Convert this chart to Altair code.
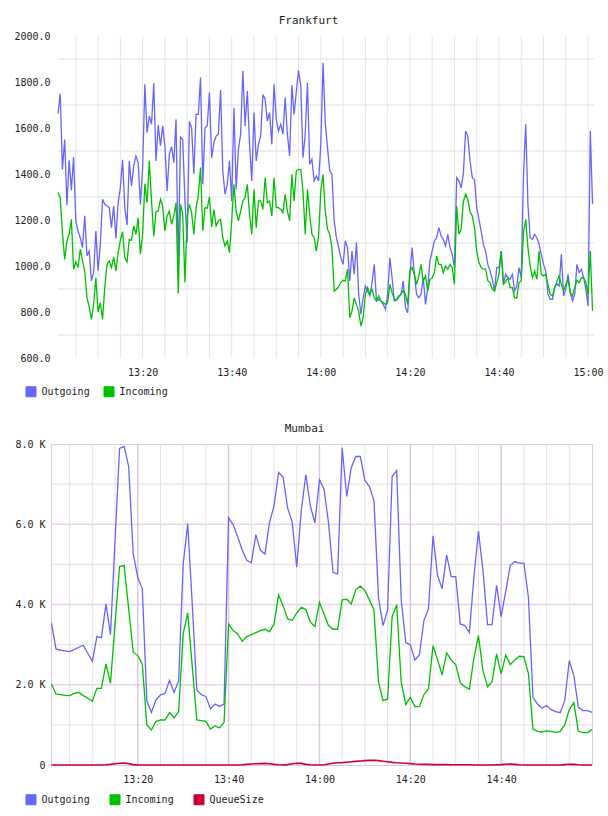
import altair as alt
import pandas as pd

FONT = "DejaVu Sans Mono"
SERIES = ["Outgoing", "Incoming", "QueueSize"]
COLORS = ["#6666ff", "#00c000", "#cc0033"]

# ---- Frankfurt: 30-second samples, 13:01:00 .. 15:01:00 ----
fra_outgoing = [
    1662, 1749, 1420, 1550, 1265, 1460, 1330, 1474, 1196, 1152,
    1123, 1080, 1218, 1044, 1065, 935, 971, 1152, 978, 1094,
    1290, 1268, 1261, 1254, 1167, 1261, 1120, 1275, 1341, 1462,
    1254, 1178, 1457, 1348, 1435, 1478, 1449, 1268, 1428, 1790,
    1580, 1652, 1616, 1794, 1457, 1613, 1522, 1609, 1522, 1326,
    1486, 1519, 1449, 1638, 993, 1561, 1551, 1283, 1102, 1628,
    1600, 1400, 1659, 1659, 1819, 1355, 1601, 1609, 1754, 1471,
    1536, 1565, 1573, 1765, 1413, 1312, 1355, 1457, 1283, 1688,
    1333, 1507, 1573, 1848, 1609, 1761, 1529, 1370, 1667, 1457,
    1529, 1565, 1746, 1725, 1630, 1667, 1529, 1790, 1638, 1587,
    1616, 1573, 1732, 1573, 1478, 1786, 1659, 1758, 1851, 1783,
    1471, 1573, 1797, 1442, 1464, 1370, 1391, 1370, 1529, 1884,
    1620, 1515, 1413, 1399, 1196, 1123, 1080, 1036, 1007, 1109,
    1080, 935, 1065, 964, 1102, 877, 790, 862, 913, 891,
    870, 928, 1007, 848, 855, 848, 833, 812, 877, 1036,
    949, 848, 855, 870, 877, 935, 819, 797, 964, 1080,
    964, 877, 862, 877, 949, 833, 906, 1022, 1065, 1109,
    1123, 1167, 1131, 1116, 1087, 1138, 1080, 1051, 993, 1384,
    1370, 1340, 1400, 1587, 1565, 1457, 1384, 1377, 1254, 1203,
    1152, 1094, 1065, 1007, 978, 942, 891, 993, 993, 1065,
    920, 964, 949, 942, 964, 891, 913, 993, 949, 1393,
    1616, 1268, 1123, 1116, 1138, 1123, 1094, 1051, 1007, 978,
    877, 855, 855, 906, 923, 913, 1051, 870, 899, 964,
    884, 848, 877, 1007, 971, 986, 949, 899, 826, 1587, 1271,
]
fra_incoming = [
    1319, 1297, 1144, 1029, 1109, 1138, 1203, 986, 1018, 993,
    1073, 1022, 978, 862, 822, 768, 834, 949, 800, 841,
    768, 906, 1007, 1022, 993, 1039, 978, 1058, 1112, 1149,
    1036, 1018, 1116, 1112, 1174, 1138, 1210, 1051, 1138, 1358,
    1275, 1457, 1283, 1128, 1236, 1239, 1290, 1261, 1152, 1218,
    1239, 1181, 1218, 1275, 880, 1268, 1225, 928, 1218, 1268,
    1230, 1138, 1254, 1304, 1428, 1152, 1254, 1251, 1300, 1170,
    1245, 1174, 1196, 1203, 1123, 1087, 1109, 1058, 1196, 1355,
    1239, 1196, 1239, 1283, 1297, 1355, 1225, 1138, 1333, 1167,
    1283, 1283, 1246, 1384, 1275, 1283, 1218, 1384, 1254, 1254,
    1246, 1232, 1312, 1239, 1196, 1399, 1283, 1413, 1420, 1420,
    1326, 1138, 1333, 1225, 1138, 1123, 1065, 1131, 1326, 1399,
    1240, 1160, 1138, 1080, 891, 899, 909, 928, 938, 935,
    986, 775, 804, 862, 833, 804, 739, 775, 877, 906,
    877, 899, 862, 848, 870, 848, 841, 833, 841, 920,
    884, 855, 851, 865, 877, 894, 877, 833, 978, 993,
    964, 920, 957, 1007, 935, 957, 891, 942, 949, 971,
    1044, 1007, 1007, 971, 1000, 986, 1007, 993, 920, 1261,
    1138, 1160, 1280, 1312, 1290, 1236, 1218, 1167, 1065, 1015,
    993, 986, 986, 935, 928, 899, 891, 928, 964, 1065,
    920, 932, 949, 906, 906, 862, 862, 928, 935, 1145,
    1203, 1080, 1000, 949, 978, 942, 1065, 964, 957, 964,
    920, 877, 870, 906, 932, 957, 920, 891, 920, 942,
    884, 870, 906, 938, 928, 949, 949, 928, 877, 1065, 805,
]

# ---- Mumbai: 1-minute samples, 13:01 .. 15:00 ----
mum_outgoing = [
    3533, 2893, 2860, 2843, 2826, 2876, 2934, 2984, 2785, 2585,
    3200, 3175, 4015, 3250, 5600, 7890, 7940, 7440, 5260, 4680,
    4390, 1600, 1310, 1620, 1750, 1780, 2110, 1810, 2100, 5010,
    6010, 4000, 1870, 1750, 1710, 1400, 1520, 1460, 1520, 6160,
    5990, 5680, 5360, 5100, 5040, 5740, 5350, 5260, 6040, 6460,
    7290, 7170, 6400, 6050, 4930, 6340, 7240, 6460, 6030, 7110,
    6880, 6027, 4796, 4763, 7905, 6692, 7407, 7689, 7689, 7091,
    6941, 6592, 4165, 3475, 3865, 7190, 7340, 4115, 3051, 2993,
    2618, 2743, 3599, 3890, 5711, 4722, 4389, 5237, 4697, 4697,
    3516, 3475, 3300, 4680, 5827, 4846, 3500, 3500, 4480, 3699,
    4323, 4971, 5071, 5029, 5029, 4181, 1687, 1521, 1413, 1480,
    1380, 1330, 1305, 1604, 2602, 2228, 1438, 1355, 1355, 1313,
]
mum_incoming = [
    2020, 1771, 1754, 1737, 1729, 1787, 1812, 1729, 1662, 1588,
    1912, 1912, 2519, 2037, 3516, 4946, 4971, 3890, 2810, 2727,
    2519, 998, 873, 1081, 1122, 1122, 1305, 1172, 1330, 3267,
    3790, 2452, 1122, 1106, 1089, 898, 973, 923, 1064, 3516,
    3350, 3267, 3084, 3200, 3250, 3300, 3350, 3383, 3317, 3516,
    4239, 3965, 3641, 3608, 3790, 3932, 3874, 3558, 3450, 4048,
    3766, 3475, 3383, 3383, 4115, 4131, 4015, 4372, 4456, 4347,
    4115, 3865, 2062, 1604, 1646, 3699, 3990, 2062, 1505, 1687,
    1455, 1455, 1754, 1895, 2976, 2627, 2244, 2793, 2618, 2502,
    2053, 1953, 1887, 2660, 3225, 2352, 1953, 2078, 2768, 2269,
    2743, 2502, 2618, 2710, 2702, 2286, 898, 840, 823, 848,
    840, 815, 840, 998, 1380, 1554, 840, 806, 806, 881,
]
mum_queue = [
    0, 0, 0, 0, 0, 0, 0, 0, 0, 0,
    0, 0, 5, 15, 30, 45, 50, 35, 10, 0,
    0, 0, 0, 0, 0, 0, 0, 0, 0, 0,
    0, 0, 0, 0, 0, 0, 0, 0, 0, 0,
    0, 0, 5, 15, 25, 30, 35, 40, 30, 15,
    5, 0, 10, 30, 45, 40, 15, 5, 0, 0,
    5, 25, 45, 55, 60, 70, 80, 90, 100, 110,
    115, 120, 110, 95, 80, 65, 55, 50, 45, 35,
    25, 20, 15, 15, 10, 10, 10, 10, 5, 5,
    5, 5, 5, 0, 0, 0, 0, 0, 5, 10,
    20, 25, 15, 5, 0, 0, 0, 0, 0, 0,
    0, 0, 0, 10, 20, 15, 5, 0, 0, 0,
]

# axis ticks / grid positions, in minutes after 13:00
fra_time_labels = [20, 40, 60, 80, 100, 120]
fra_vgrid = list(range(5, 121, 5))
fra_value_labels = list(range(600, 2001, 200))
fra_hgrid = list(range(700, 2000, 200))
fra_span = [1, 121.33]

mum_time_labels = [20, 40, 60, 80, 100]
mum_vgrid_minor = [m for m in range(5, 120, 5) if m % 20]
mum_vgrid_major = [20, 40, 60, 80, 100]
mum_value_labels = list(range(0, 8001, 2000))
mum_hgrid_minor = [1000, 3000, 5000, 7000]
mum_hgrid_major = [2000, 4000, 6000]
mum_span = [0.9, 120]

TIME_LABEL = ("format(13 + floor(datum.value / 60), 'd') + ':' + "
              "format(datum.value % 60, '02d')")


def long_frame(minutes, columns):
    rows = []
    for name, values in columns.items():
        for m, v in zip(minutes, values):
            rows.append({"minute": m, "value": v, "series": name})
    return pd.DataFrame(rows)


fra_minutes = [1 + 0.5 * i for i in range(len(fra_outgoing))]
mum_minutes = [1 + k for k in range(len(mum_outgoing))]

fra_df = long_frame(fra_minutes, {"Outgoing": fra_outgoing, "Incoming": fra_incoming})
mum_df = long_frame(mum_minutes, {"Outgoing": mum_outgoing, "Incoming": mum_incoming,
                                  "QueueSize": mum_queue})


def x_axis(values, pad):
    return alt.Axis(values=values, labelExpr=TIME_LABEL, title=None, grid=False,
                    ticks=False, domain=False, labelPadding=pad, labelFlush=False,
                    labelFont=FONT, labelFontSize=10, labelColor="#222")


def y_axis(values, pad, **kw):
    return alt.Axis(values=values, title=None, grid=False, ticks=False, domain=False,
                    labelPadding=pad, minExtent=37, maxExtent=37, labelFont=FONT,
                    labelFontSize=10, labelColor="#222", **kw)


def legend(n, ly):
    return alt.Legend(orient="none", legendX=-25.5, legendY=ly, direction="horizontal",
                      columns=n, gridAlign="all", columnPadding=11, title=None,
                      symbolType="square", symbolSize=100, symbolStrokeColor="#999999",
                      symbolStrokeWidth=1, symbolOpacity=1, labelFont=FONT,
                      labelFontSize=10, labelColor="#222", labelOffset=5)


def panel(df, names, xs, ys, span, x_ax, y_ax, hgrids, vgrids, leg, title,
          width, height, view):
    color_scale = alt.Scale(domain=names, range=COLORS[:len(names)])
    # first layer draws nothing; it carries the filled-square legend for the series
    layers = [
        alt.Chart(df).transform_filter("false").mark_square(filled=True)
        .encode(x=alt.X("minute:Q", scale=xs), y=alt.Y("value:Q", scale=ys),
                color=alt.Color("series:N", scale=color_scale, legend=leg))
    ]
    # horizontal grid lines run across the data span only
    for gdata, color, sw in hgrids:
        layers.append(
            alt.Chart(pd.DataFrame({"value": gdata}))
            .mark_rule(color=color, strokeWidth=sw)
            .encode(y=alt.Y("value:Q", scale=ys),
                    x=alt.datum(span[0], scale=xs), x2=alt.datum(span[1]))
        )
    for gdata, color, sw in vgrids:
        layers.append(
            alt.Chart(pd.DataFrame({"minute": gdata}))
            .mark_rule(color=color, strokeWidth=sw)
            .encode(x=alt.X("minute:Q", scale=xs))
        )
    for name in names:
        layers.append(
            alt.Chart(df).transform_filter(alt.datum.series == name)
            .mark_line(strokeWidth=1.3 if name != "QueueSize" else 1.6)
            .encode(x=alt.X("minute:Q", scale=xs, axis=x_ax),
                    y=alt.Y("value:Q", scale=ys, axis=y_ax),
                    color=alt.Color("series:N", scale=color_scale))
        )
    return alt.layer(*layers).properties(
        width=width, height=height, view=view,
        title=alt.TitleParams(title, font=FONT, fontSize=11, fontWeight="normal",
                              color="#222", anchor="middle", frame="bounds", offset=5),
    )


# Frankfurt's data area starts a few pixels right of the shared left edge
fra_xs = alt.Scale(domain=fra_span, range=[7, 543], nice=False, zero=False)
fra_ys = alt.Scale(domain=[600, 2000], nice=False, zero=False)
frankfurt = panel(
    fra_df, SERIES[:2], fra_xs, fra_ys, fra_span,
    x_axis(fra_time_labels, 9),
    y_axis(fra_value_labels, 1, format=".1f"),
    [(fra_hgrid, "#efefef", 2)], [(fra_vgrid, "#e6e6e6", 1)],
    legend(2, 350), "Frankfurt", 543, 322,
    alt.ViewBackground(stroke=None),
)

mum_xs = alt.Scale(domain=mum_span, nice=False, zero=False)
mum_ys = alt.Scale(domain=[0, 8000], nice=False, zero=False)
mumbai = panel(
    mum_df, SERIES, mum_xs, mum_ys, mum_span,
    x_axis(mum_time_labels, 9),
    y_axis(mum_value_labels, 6,
           labelExpr="datum.value == 0 ? '0' : format(datum.value / 1000, '.1f') + ' K'"),
    [(mum_hgrid_minor, "#e6dde6", 1), (mum_hgrid_major, "#ecd3ec", 1.5)],
    [(mum_vgrid_minor, "#e8e1e8", 1), (mum_vgrid_major, "#dcc8dc", 1.5)],
    legend(3, 350), "Mumbai", 541, 321,
    alt.ViewBackground(stroke="#dcc8dc", strokeWidth=1),
)

chart = (
    alt.vconcat(frankfurt, mumbai, spacing=23)
    .resolve_scale(color="independent")
    .resolve_legend(color="independent")
    .properties(padding={"left": 13, "top": 15, "right": 0, "bottom": 0},
                background="white")
    .configure_view(stroke=None)
)

chart.save("out.html", embed_options={"renderer": "svg", "actions": False})
